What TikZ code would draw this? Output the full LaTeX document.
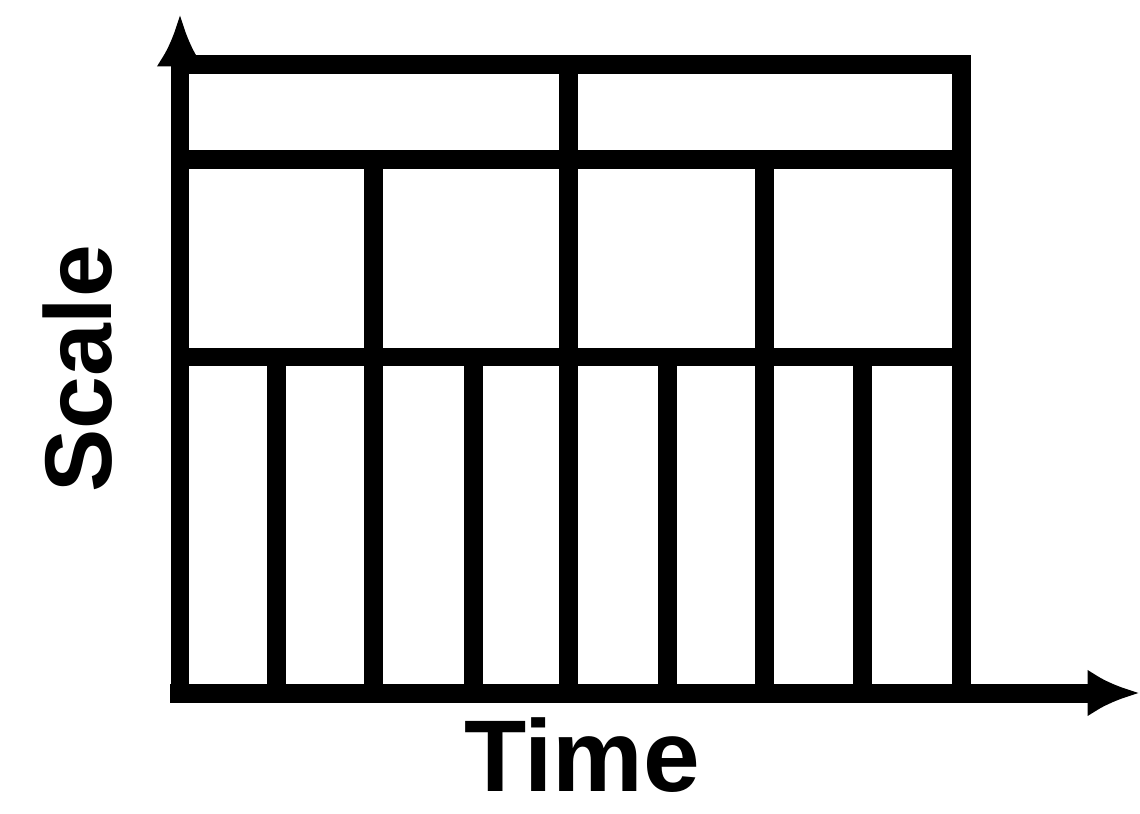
\documentclass[tikz,border=0pt]{standalone}
\usepackage{fontspec}
\setmainfont{Liberation Sans}
\usetikzlibrary{arrows.meta}

\begin{document}
\begin{tikzpicture}[
    x=0.02cm, y=-0.02cm,
    grid/.style={line width=0.38cm, line join=miter},
    axis/.style={line width=0.38cm, -{Latex[length=1.05cm, width=0.95cm]}},
    lbl/.style={font=\bfseries\fontsize{58}{64}\selectfont, inner sep=0pt}
]
    \useasboundingbox (0,0) rectangle (1140,814);

    % --- corners ---
    \coordinate (origin) at (180,693);
    \coordinate (topleft) at (180,65);
    \coordinate (topright) at (961,65);
    \coordinate (botright) at (961,693);
    \coordinate (yend) at (180,14);
    \coordinate (xend) at (1140,693);

    % --- axes ---
    \draw[axis] (origin) -- (yend);
    \draw[axis] (170,693) -- (xend);

    % --- outer frame and scale rows ---
    \draw[grid] (topleft) -- (topright) -- (botright);
    \draw[grid] (180,160) -- (961,160);
    \draw[grid] (180,357) -- (961,357);

    % --- top row: one split ---
    \draw[grid] (568,65) -- (568,693);
    % --- middle row ---
    \foreach \x in {373,764}
        \draw[grid] (\x,160) -- (\x,693);
    % --- bottom row ---
    \foreach \x in {276,473,667,862}
        \draw[grid] (\x,357) -- (\x,693);

    % --- labels ---
    \node[lbl, font=\bfseries\fontsize{54}{60}\selectfont, rotate=90] (scale) at (78,369) {Scale};
    \node[lbl, anchor=base] (time) at (582,791) {Time};
\end{tikzpicture}
\end{document}
